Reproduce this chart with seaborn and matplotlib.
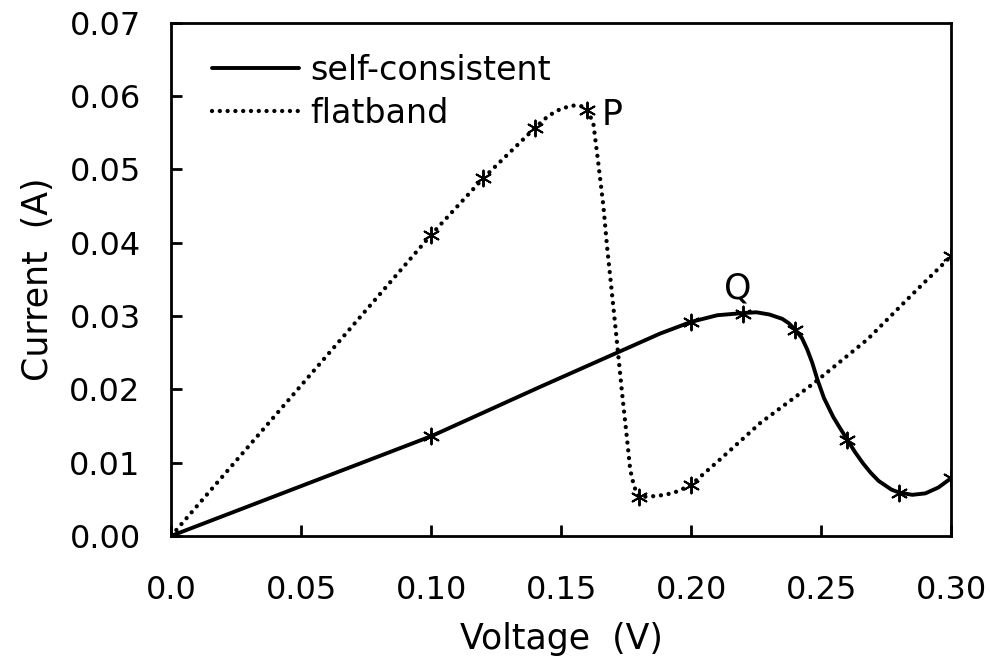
import matplotlib
matplotlib.use("Agg")
import matplotlib.pyplot as plt
import seaborn as sns
import pandas as pd

# ---- data ----
# curve traces
sc_curve_v = [0.0, 0.05, 0.10, 0.1423, 0.1715, 0.188, 0.20, 0.21, 0.22, 0.225,
              0.23, 0.235, 0.2375, 0.24, 0.2425, 0.2446, 0.2465, 0.2485, 0.251,
              0.2546, 0.257, 0.26, 0.263, 0.266, 0.269, 0.272, 0.277, 0.28,
              0.285, 0.29, 0.295, 0.30]
sc_curve_i = [0.0, 0.0068, 0.0136, 0.0204, 0.0250, 0.0276, 0.0292, 0.0301, 0.0304, 0.0305,
              0.0302, 0.0296, 0.0290, 0.0281, 0.0270, 0.0254, 0.0236, 0.0213, 0.0188,
              0.0162, 0.0148, 0.0131, 0.0114, 0.0099, 0.0086, 0.0075, 0.0063, 0.0059,
              0.0056, 0.0058, 0.0066, 0.0079]

fb_curve_v = [0.0, 0.10, 0.12, 0.14, 0.145, 0.15, 0.1546, 0.158, 0.16, 0.1623,
              0.1642, 0.1662, 0.1676, 0.1692, 0.1708, 0.1735, 0.175, 0.1765, 0.178,
              0.18, 0.185, 0.19, 0.195, 0.20, 0.21, 0.22, 0.2265, 0.247, 0.2677,
              0.2854, 0.30]
fb_curve_i = [0.0, 0.0411, 0.0488, 0.0557, 0.0573, 0.0583, 0.0587, 0.0586, 0.0581, 0.0563,
              0.0509, 0.0449, 0.0394, 0.0340, 0.0285, 0.0190, 0.0141, 0.0090, 0.0067,
              0.0053, 0.0054, 0.0056, 0.0061, 0.0070, 0.0101, 0.0133, 0.0154, 0.0208,
              0.0268, 0.0331, 0.0382]

# computed points (asterisk markers)
sc_pts_v = [0.0, 0.10, 0.20, 0.22, 0.24, 0.26, 0.28, 0.30]
sc_pts_i = [0.0, 0.0136, 0.0292, 0.0303, 0.0281, 0.0131, 0.0059, 0.0079]
fb_pts_v = [0.0, 0.10, 0.12, 0.14, 0.16, 0.18, 0.20, 0.30]
fb_pts_i = [0.0, 0.0411, 0.0488, 0.0557, 0.0581, 0.0053, 0.0070, 0.0382]

x_ticks = [0.0, 0.05, 0.10, 0.15, 0.20, 0.25, 0.30]
x_ticklabels = ["0.0", "0.05", "0.10", "0.15", "0.20", "0.25", "0.30"]
y_ticks = [0.00, 0.01, 0.02, 0.03, 0.04, 0.05, 0.06, 0.07]
y_ticklabels = ["0.00", "0.01", "0.02", "0.03", "0.04", "0.05", "0.06", "0.07"]

sns.set_theme(style="ticks")
plt.rcParams['font.family'] = ['DejaVu Sans']

fig = plt.figure(figsize=(9.9, 6.69), dpi=100)
ax = fig.add_axes([0.173, 0.199, 0.788, 0.767])

sc_df = pd.DataFrame({"V": sc_curve_v, "I": sc_curve_i})
fb_df = pd.DataFrame({"V": fb_curve_v, "I": fb_curve_i})

sns.lineplot(data=sc_df, x="V", y="I", ax=ax, color="black",
             sort=False, estimator=None, label="self-consistent")
sns.lineplot(data=fb_df, x="V", y="I", ax=ax, color="black",
             sort=False, estimator=None, label="flatband")

sc_line, fb_line = ax.lines[0], ax.lines[1]
sc_line.set_linewidth(2.8)
sc_line.set_solid_capstyle("round")
sc_line.set_solid_joinstyle("round")
fb_line.set_linewidth(3.1)
fb_line.set_linestyle((0, (0.01, 1.8)))
fb_line.set_dash_capstyle("round")

sns.scatterplot(x=sc_pts_v, y=sc_pts_i, ax=ax, marker=(6, 2, 0), s=130,
                color="black", edgecolor="black", linewidth=1.4, zorder=5)
sns.scatterplot(x=fb_pts_v, y=fb_pts_i, ax=ax, marker=(6, 2, 0), s=130,
                color="black", edgecolor="black", linewidth=1.4, zorder=5)

ax.text(0.1655, 0.0574, "P", fontsize=25, ha="left", va="center", color="black")
ax.text(0.218, 0.0338, "Q", fontsize=25, ha="center", va="center", color="black")

ax.set_xlim(0.0, 0.30)
ax.set_ylim(0.0, 0.07)
ax.set_xticks(x_ticks)
ax.set_xticklabels(x_ticklabels)
ax.set_yticks(y_ticks)
ax.set_yticklabels(y_ticklabels)
ax.tick_params(axis="both", direction="in", length=8, width=2, labelsize=23,
               colors="black")
ax.tick_params(axis="x", pad=28)
ax.tick_params(axis="y", pad=22)

for sp in ax.spines.values():
    sp.set_visible(True)
    sp.set_linewidth(2)
    sp.set_color("black")

ax.set_xlabel("Voltage  (V)", fontsize=25, labelpad=12, color="black")
ax.set_ylabel("Current  (A)", fontsize=25, labelpad=10, color="black")

leg = ax.legend(handles=[sc_line, fb_line], labels=["self-consistent", "flatband"],
                loc="upper left", frameon=False, fontsize=24, handlelength=2.6,
                handletextpad=0.35, labelspacing=0.3, borderaxespad=0.0,
                bbox_to_anchor=(0.035, 0.966))
for t in leg.get_texts():
    t.set_color("black")

ax.set_facecolor("white")
fig.patch.set_facecolor("white")
fig.savefig("out.png", dpi=100, facecolor="white")
